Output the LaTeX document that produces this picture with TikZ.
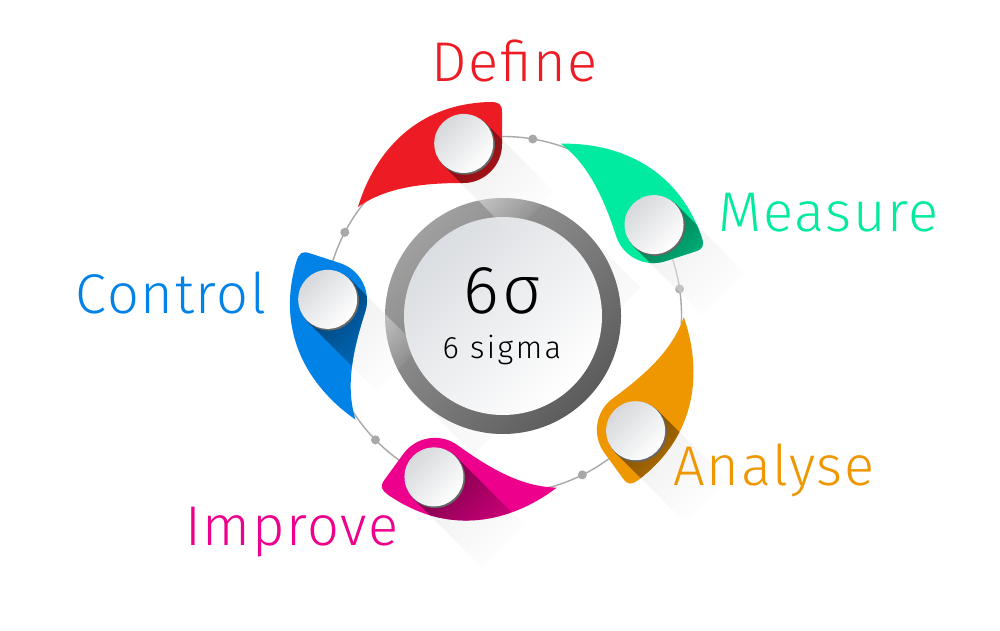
\documentclass[tikz,border=0pt]{standalone}
\usepackage{fontspec}
\setmainfont{Fira Sans}[UprightFont=* Light]
\usetikzlibrary{calc,fadings}
\definecolor{cred}{HTML}{ED1C24}
\definecolor{cgreen}{HTML}{00EBA0}
\definecolor{corange}{HTML}{EF9700}
\definecolor{cmag}{HTML}{EC008C}
\definecolor{cblue}{HTML}{0082E6}
\definecolor{ringc}{HTML}{A0A0A0}
\definecolor{ringdark}{HTML}{5C5C5C}
\definecolor{thinc}{HTML}{A8A8A8}
\definecolor{btop}{HTML}{D6D8DB}
\definecolor{disktop}{HTML}{DADDE1}
\tikzfading[name=fadeaway, left color=transparent!0, right color=transparent!100]
\newcommand\petalpath[1]{\path[#1] (358,207) .. controls (372,160) and (410,104) .. (490,102) .. controls (499,102) and (502,104) .. (502,112) -- (502,144) arc[start angle=0, end angle=-90, radius=39pt] .. controls (420,183) and (385,188) .. (358,207) -- cycle;}
\newcommand\bandpath[3]{\path[#1] (#2,-#2) -- ({#2+#3},{-#2+#3}) -- ({-#2+#3},{#2+#3}) -- (-#2,#2) -- cycle;}
\newcommand\petalgroup[3]{% #1 rotation, #2 colour, #3 button coordinate
  \begin{scope}[shift={(#3)}]\bandpath{fill=black!7, path fading=fadeaway, fading angle=-45}{21.2}{70}\end{scope}
  \petalpath{fill=#2, rotate around={#1:(503,315)}}
  \begin{scope}
    \petalpath{clip, rotate around={#1:(503,315)}}
    \begin{scope}[shift={(#3)}]\bandpath{fill=#2!50!black, path fading=fadeaway, fading angle=-45}{21.2}{75}\end{scope}
  \end{scope}
  \fill[black!60] ($(#3)+(1.2,1.2)$) circle (30pt);
  \shade[top color=btop, bottom color=white, shading angle=45] (#3) circle (29.5pt);
}
\tikzset{lbl/.style={font=\fontsize{56}{60}\selectfont\addfontfeature{LetterSpace=3}, anchor=base, inner sep=0pt}}
\begin{document}
\begin{tikzpicture}[x=1pt,y=-1pt]
\useasboundingbox (0,0) rectangle (1000,631);
\fill[white] (0,0) rectangle (1000,631);
\coordinate (O) at (503,315);
\coordinate (C) at (503,316);
% thin circle with dots
\draw[thinc, line width=1.4pt] (O) circle (178.5pt);
\foreach \k in {0,...,4}{
  \fill[thinc] ($(O)+({80.4-72*\k}:178.5pt)$) circle (4.5pt);
}
\coordinate (bD) at ($(O)+(102.9:176pt)$);
\coordinate (bM) at ($(O)+(30.9:176pt)$);
\coordinate (bA) at ($(O)+(-41.1:176pt)$);
\coordinate (bI) at ($(O)+(-113.1:176pt)$);
\coordinate (bC) at ($(O)+(-185.1:176pt)$);
% centre ring
\begin{scope}[shift={(C)}]\bandpath{fill=black!6, path fading=fadeaway, fading angle=-45}{83.4}{55}\end{scope}
\shade[top color=ringc, middle color=ringc!92!black, bottom color=ringdark, shading angle=45] (C) circle (118pt);
\shade[top color=disktop, bottom color=white, shading angle=45] (C) circle (99pt);
\node[inner sep=0pt, anchor=base, font=\fontsize{68}{70}\selectfont\addfontfeature{LetterSpace=5}] (sig) at (503,313) {6σ};
\node[inner sep=0pt, anchor=base, font=\fontsize{31}{34}\selectfont\addfontfeature{LetterSpace=8}] (sub) at (502,358) {6 sigma};
% petals
\petalgroup{0}{cred}{bD}
\petalgroup{-72}{cgreen}{bM}
\petalgroup{-144}{corange}{bA}
\petalgroup{-216}{cmag}{bI}
\petalgroup{-288}{cblue}{bC}
% labels
\node[lbl, text=cred] (tD) at (514.5,82) {Define};
\node[lbl, text=cgreen] (tM) at (828.5,231) {Measure};
\node[lbl, text=corange] (tA) at (774,485) {Analyse};
\node[lbl, text=cmag] (tI) at (292,545) {Improve};
\node[lbl, text=cblue] (tC) at (171,313) {Control};
\end{tikzpicture}
\end{document}
